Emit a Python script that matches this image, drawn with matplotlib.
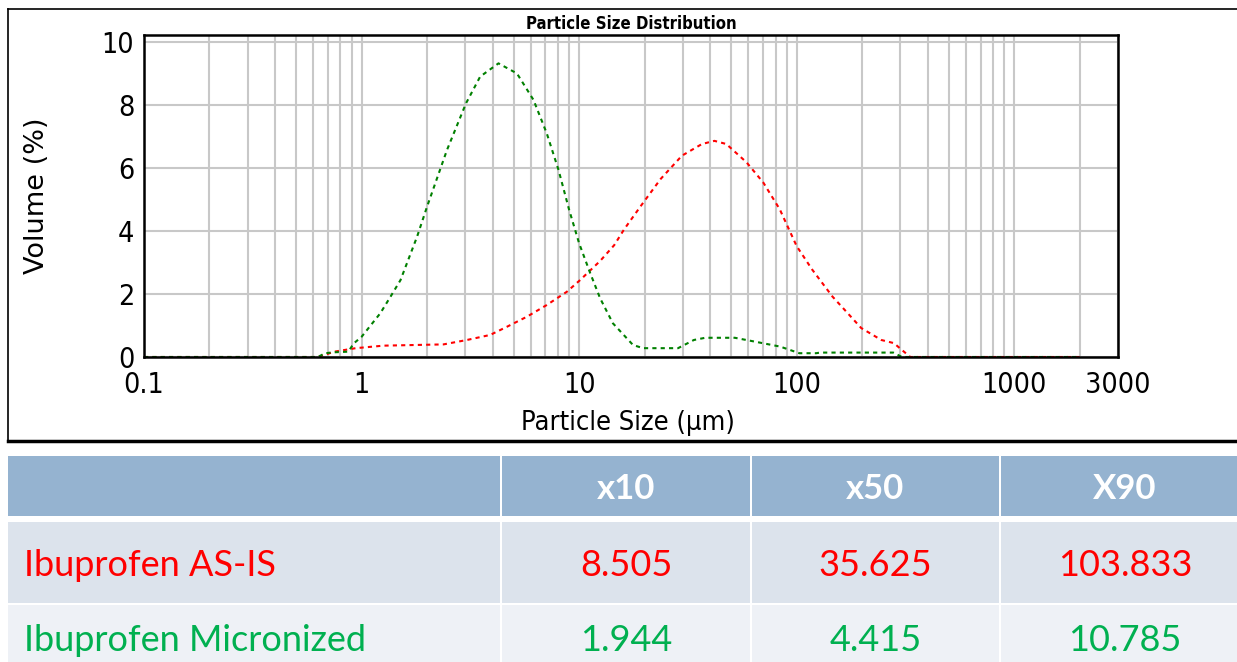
import numpy as np
import matplotlib.pyplot as plt
from matplotlib.lines import Line2D
from matplotlib.patches import Rectangle
from matplotlib.ticker import FixedLocator, LogLocator, NullFormatter

# volume distribution curves (size in um, volume %)
asis_size = [0.1, 0.62, 0.65, 0.75, 0.94, 1.26, 2.38, 3.05, 3.9, 4.66, 5.76, 7.1, 8.78,
             10.1, 12.5, 14.5, 16.1, 19.2, 23.7, 29.7, 36.7, 41.9, 47.5, 58.8, 70.2,
             83.6, 100, 117.7, 146, 166, 198, 245, 280, 305, 333, 2000]
asis_vol = [0, 0, 0.03, 0.17, 0.28, 0.36, 0.40, 0.54, 0.70, 0.96, 1.28, 1.65, 2.07,
            2.44, 3.05, 3.55, 4.05, 4.79, 5.65, 6.39, 6.76, 6.86, 6.76, 6.18, 5.54,
            4.69, 3.52, 2.78, 1.92, 1.50, 0.92, 0.54, 0.44, 0.22, 0.0, 0]

micro_size = [0.1, 0.63, 0.68, 0.75, 0.87, 0.92, 1.0, 1.22, 1.36, 1.51, 1.80, 2.0, 2.47,
              3.02, 3.51, 4.26, 5.18, 6.17, 7.1, 8.04, 9.0, 10.0, 11.25, 12.5, 14.3,
              17.7, 19.7, 28.5, 33.7, 38, 52, 64, 84, 103, 123, 128, 278, 305, 2000]
micro_vol = [0, 0, 0.12, 0.15, 0.17, 0.43, 0.64, 1.39, 1.92, 2.44, 3.82, 4.77, 6.57,
             8.05, 8.90, 9.32, 9.0, 8.16, 7.1, 5.94, 4.67, 3.61, 2.66, 1.86, 1.07,
             0.38, 0.28, 0.28, 0.54, 0.61, 0.61, 0.49, 0.33, 0.12, 0.12, 0.14, 0.14, 0.0, 0]

x_ticks = [0.1, 1, 10, 100, 1000, 3000]
x_ticklabels = ["0.1", "1", "10", "100", "1000", "3000"]
y_ticks = [0, 2, 4, 6, 8, 10]

# summary table
col_headers = ["", "x10", "x50", "X90"]
row_names = ["Ibuprofen AS-IS", "Ibuprofen Micronized"]
row_values = [["8.505", "35.625", "103.833"],
              ["1.944", "4.415", "10.785"]]
row_colors = ["#FF0000", "#00B050"]

NARROW = dict(family="DejaVu Sans", stretch="condensed")
W, H = 1237, 662

fig = plt.figure(figsize=(W / 100, H / 100), dpi=100)


def fx(px):
    return px / W


def fy(py):
    return 1 - py / H


# chart frame
fig.add_artist(Line2D([fx(8), fx(8)], [fy(9), fy(441)], color="black", lw=1.2))
fig.add_artist(Line2D([fx(8), 1], [fy(9), fy(9)], color="black", lw=1.2))
fig.add_artist(Line2D([fx(8), 1], [fy(441), fy(441)], color="black", lw=2.5))

ax = fig.add_axes([fx(144), fy(357), fx(1118 - 144), (357 - 35) / H])
ax.set_xscale("log")
ax.set_xlim(0.1, 3000)
ax.set_ylim(0, 10.22)

ax.plot(asis_size, asis_vol, color="#FF0000", lw=1.5, linestyle=(0, (2, 2)))
ax.plot(micro_size, micro_vol, color="#008000", lw=1.5, linestyle=(0, (2, 2)))

ax.xaxis.set_major_locator(FixedLocator(x_ticks))
ax.set_xticklabels(x_ticklabels)
ax.xaxis.set_minor_locator(LogLocator(base=10, subs=np.arange(2, 10)))
ax.xaxis.set_minor_formatter(NullFormatter())
ax.set_yticks(y_ticks)
ax.grid(True, which="both", axis="x", color="#C8C8C8", lw=1.5)
ax.grid(True, which="major", axis="y", color="#C8C8C8", lw=1.5)
ax.set_axisbelow(True)
ax.tick_params(which="both", length=0)
ax.tick_params(axis="x", pad=10)
ax.tick_params(axis="y", pad=7)
for lbl in ax.get_xticklabels() + ax.get_yticklabels():
    lbl.set_family(NARROW["family"])
    lbl.set_stretch(NARROW["stretch"])
    lbl.set_fontsize(20.5)
for sp in ax.spines.values():
    sp.set_linewidth(1.8)

ax.set_title("Particle Size Distribution", fontweight="bold", fontsize=12,
             pad=4, **NARROW)
ax.set_ylabel("Volume (%)", family="DejaVu Sans", fontsize=19.5)
ax.yaxis.set_label_coords((50 - 144) / 974, 0.5)
ax.set_xlabel("Particle Size (\u00b5m)", fontsize=19.5, **NARROW)
ax.xaxis.set_label_coords((628 - 144) / 974, -(423 - 357) / 322)
ax.xaxis.label.set_va("center")

# table drawn in pixel coordinates
tab = fig.add_axes([0, 0, 1, fy(441)])
tab.set_xlim(0, W)
tab.set_ylim(H, 441)
tab.axis("off")

col_edges = [8, 501, 751, 1000, 1250]
row_edges = [(456, 516), (522, 603), (605, 670)]
row_fill = ["#95B3D0", "#DCE3EC", "#EEF1F6"]
text_y = [486, 563, 638]

for r, (top, bot) in enumerate(row_edges):
    for c in range(4):
        x0 = col_edges[c] + (1 if c else 0)
        x1 = col_edges[c + 1] - 1
        tab.add_patch(Rectangle((x0, top), x1 - x0, bot - top,
                                facecolor=row_fill[r], edgecolor="none"))

TFONT = ["Lato", "DejaVu Sans"]
for c, head in enumerate(col_headers):
    if head:
        xc = (col_edges[c] + col_edges[c + 1]) / 2
        tab.text(xc, text_y[0], head, color="white", fontweight="bold",
                 family=TFONT, fontsize=25, ha="center", va="center_baseline")

for r, name in enumerate(row_names):
    yc = text_y[r + 1]
    tab.text(24, yc, name, color=row_colors[r], family=TFONT, fontsize=26,
             ha="left", va="center_baseline")
    for c, val in enumerate(row_values[r]):
        xc = (col_edges[c + 1] + col_edges[c + 2]) / 2
        tab.text(xc, yc, val, color=row_colors[r], family=TFONT, fontsize=26,
                 ha="center", va="center_baseline")

fig.savefig("out.png", dpi=100)
